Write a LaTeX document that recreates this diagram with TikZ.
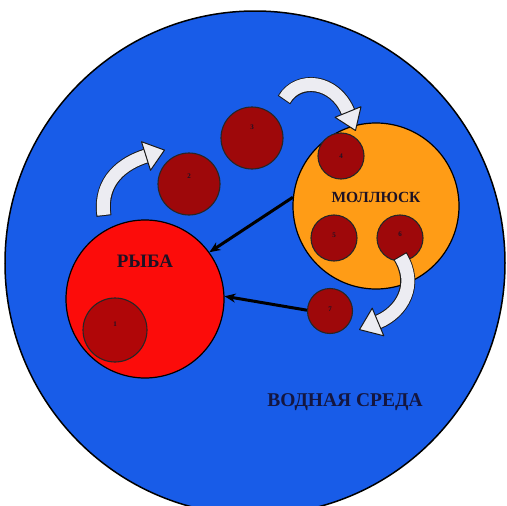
\documentclass[tikz,border=0pt]{standalone}
\usepackage{fontspec}
\setmainfont{Liberation Serif}
\usetikzlibrary{arrows.meta}
\definecolor{water}{RGB}{24,92,232}
\definecolor{fishred}{RGB}{252,12,10}
\definecolor{mollor}{RGB}{255,156,22}
\definecolor{stage}{RGB}{158,8,10}
\definecolor{stageone}{RGB}{176,6,8}
\definecolor{arrowfill}{RGB}{236,236,242}
\definecolor{inktext}{RGB}{30,18,36}
\definecolor{navytext}{RGB}{20,22,64}
\tikzset{
  host/.style={circle, draw=black, line width=1.2pt, inner sep=0pt},
  stagec/.style={circle, draw=black!85, line width=1.1pt, fill=stage, inner sep=0pt},
  num/.style={font=\bfseries\fontsize{7}{7}\selectfont, text=inktext, inner sep=0pt},
  lbl/.style={font=\bfseries\fontsize{15.5}{15.5}\selectfont, text=inktext, inner sep=0pt},
  blk/.style={line width=3pt, draw=black, -{Stealth[length=11pt,width=9pt]}},
  shaftout/.style={line width=15pt, draw=black!90},
  shaftin/.style={line width=13pt, draw=arrowfill, shorten <=1pt},
  headtri/.style={fill=arrowfill, draw=black!90, line width=1pt, line join=round}
}
\begin{document}
\begin{tikzpicture}[x=1pt,y=-1pt]
\useasboundingbox (0,0) rectangle (507,506);
\fill[white] (0,0) rectangle (507,506);
% water
\begin{scope}
\clip (0,0) rectangle (507,506);
\filldraw[fill=water, draw=black, line width=1.5pt] (255,263) ellipse [x radius=250, y radius=252];
\end{scope}
\node[lbl, font=\bfseries\fontsize{19.5}{19.5}\selectfont, text=navytext] (water) at (345,402) {ВОДНАЯ СРЕДА};
% hosts
\node[host, fill=fishred, minimum size=158pt] (fish) at (145,299) {};
\node[host, fill=mollor, minimum size=166pt] (moll) at (376,206) {};
% stages
\node[stagec, fill=stageone, minimum size=64pt] (c1) at (115,330) {};
\node[stagec, minimum size=62pt] (c2) at (189,184) {};
\node[stagec, minimum size=62pt] (c3) at (252,138) {};
\node[stagec, minimum size=46pt] (c4) at (341,156) {};
\node[stagec, minimum size=46pt] (c5) at (334,238) {};
\node[stagec, minimum size=46pt] (c6) at (400,238) {};
\node[stagec, minimum size=45pt] (c7) at (330,311) {};
\node[num] at ([yshift=6pt]c1.center) {1};
\node[num] at ([yshift=8pt]c2.center) {2};
\node[num] at ([yshift=11pt]c3.center) {3};
\node[num] at (c4.center) {4};
\node[num] at ([yshift=3pt]c5.center) {5};
\node[num] at ([yshift=4pt]c6.center) {6};
\node[num] at ([yshift=2pt]c7.center) {7};
% labels
\node[lbl] (tmoll) at (376,197) {МОЛЛЮСК};
\node[lbl, font=\bfseries\fontsize{19}{19}\selectfont] (tfish) at (145,261) {РЫБА};
% black arrows
\draw[blk] (moll.174) -- (fish.36);
\draw[blk] (c7.178) -- (fish.2);
% block arrows
\coordinate (t1) at (104,216);
\coordinate (e1) at (146,156);
\coordinate (t2) at (284,100);
\coordinate (e2) at (348,112);
\coordinate (t3) at (400,256);
\coordinate (e3) at (378,322);
\draw[shaftout] (t1) .. controls (99,180) and (124,163) .. (e1);
\draw[shaftin] (t1) .. controls (99,180) and (124,163) .. (e1);
\filldraw[headtri] (150.5,170.3) -- (164.5,150.1) -- (141.5,141.7) -- cycle;
\draw[shaftout] (t2) .. controls (298,76) and (335,80) .. (e2);
\draw[shaftin] (t2) .. controls (298,76) and (335,80) .. (e2);
\filldraw[headtri] (361.0,106.7) -- (355.5,130.5) -- (335.0,117.3) -- cycle;
\draw[shaftout] (t3) .. controls (418,285) and (402,312) .. (e3);
\draw[shaftin] (t3) .. controls (418,285) and (402,312) .. (e3);
\filldraw[headtri] (383.8,335.8) -- (359.5,329.6) -- (372.2,308.2) -- cycle;
\end{tikzpicture}
\end{document}
